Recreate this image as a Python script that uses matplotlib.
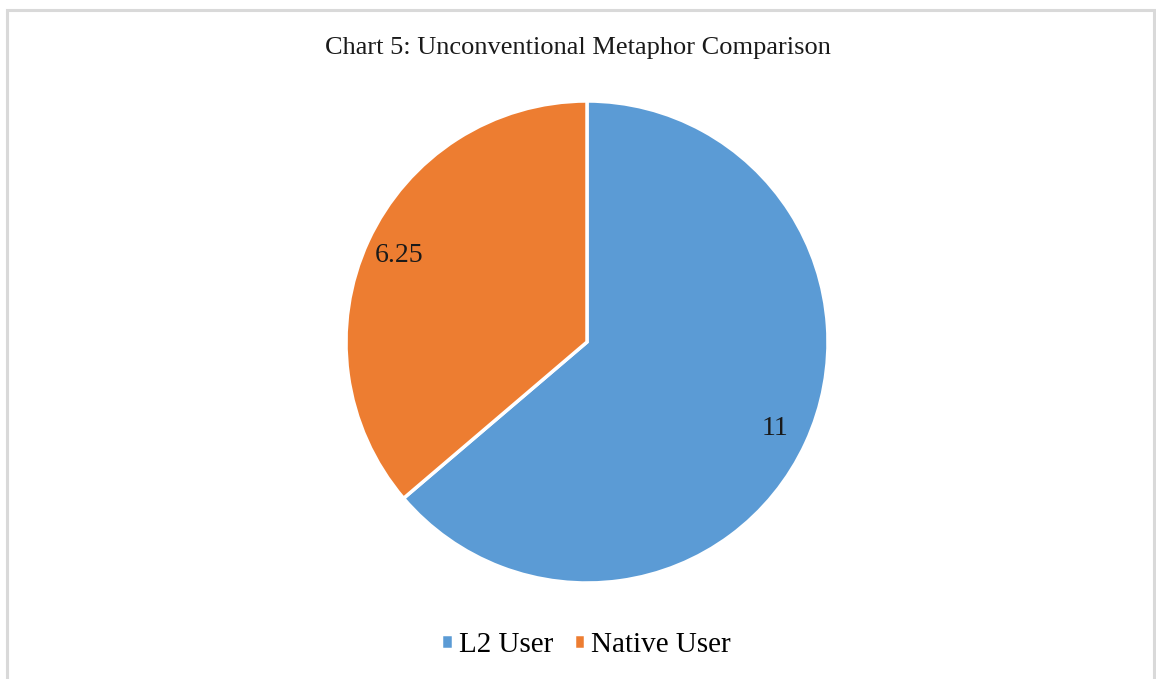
import matplotlib
matplotlib.use('Agg')
import matplotlib.pyplot as plt
from matplotlib.patches import Rectangle

# Data
labels = ['L2 User', 'Native User']
values = [11, 6.25]
value_text = ['11', '6.25']
colors = ['#5B9BD5', '#ED7D31']

plt.rcParams['font.family'] = ['Liberation Serif', 'DejaVu Serif']

W, H = 1156, 679
fig = plt.figure(figsize=(W / 100, H / 100), dpi=100)

# light grey frame around the chart area
fig.patches.append(Rectangle((7 / W, -0.05), (1154 - 7) / W, 1.05 - 10 / H,
                             transform=fig.transFigure, fill=False,
                             edgecolor='#d9d9d9', linewidth=2.2))

cx, cy, r = 587, 342, 241
ax = fig.add_axes([(cx - r) / W, (H - cy - r) / H, 2 * r / W, 2 * r / H])
wedges, texts = ax.pie(values, colors=colors, startangle=90, counterclock=False,
                       labels=value_text, labeldistance=0.86,
                       wedgeprops=dict(edgecolor='white', linewidth=2.5),
                       textprops=dict(fontsize=20, color='#1a1a1a',
                                      ha='center', va='center'))
ax.set_xlim(-1, 1)
ax.set_ylim(-1, 1)
ax.set_aspect('equal')

fig.text(0.5, 1 - 48 / H, 'Chart 5: Unconventional Metaphor Comparison',
         ha='center', va='center', fontsize=19, color='#1a1a1a')

fig.legend(wedges, labels, loc='center', bbox_to_anchor=(0.507, 1 - 645 / H),
           ncol=2, frameon=False, fontsize=21, handlelength=0.4,
           handleheight=0.4, handletextpad=0.2, columnspacing=0.7)

fig.savefig('out.png', dpi=100, facecolor='white')
